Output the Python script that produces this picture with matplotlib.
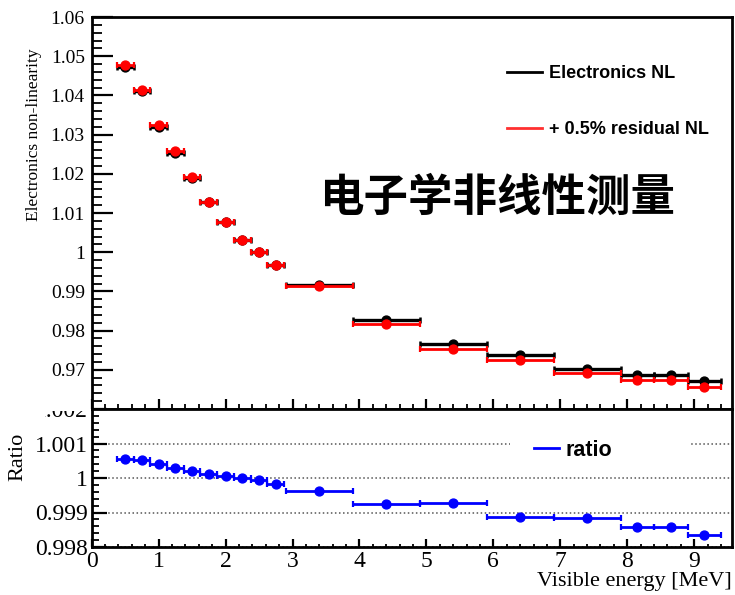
import matplotlib
matplotlib.use("Agg")
import matplotlib.pyplot as plt
from matplotlib.lines import Line2D
from matplotlib.patches import Rectangle
from matplotlib.ticker import MultipleLocator
from matplotlib.transforms import Bbox, TransformedBbox

# values
energy = [0.5, 0.75, 1.0, 1.25, 1.5, 1.75, 2.0, 2.25, 2.5, 2.75,
          3.4, 4.4, 5.4, 6.4, 7.4, 8.15, 8.65, 9.15]
energy_err = [0.125, 0.125, 0.125, 0.125, 0.125, 0.125, 0.125, 0.125, 0.125, 0.125,
              0.5, 0.5, 0.5, 0.5, 0.5, 0.25, 0.25, 0.25]
elec_nl = [1.0472, 1.0410, 1.0320, 1.0254, 1.0189, 1.0128, 1.0078, 1.0031, 1.0000, 0.9968,
           0.9916, 0.9826, 0.9765, 0.9739, 0.9703, 0.9687, 0.9687, 0.9672]
resid_nl = [1.0478, 1.0415, 1.0324, 1.0257, 1.0191, 1.0129, 1.0078, 1.0031, 1.0000, 0.9967,
            0.9913, 0.9818, 0.9754, 0.9725, 0.9691, 0.9673, 0.9673, 0.9656]
ratio = [1.00056, 1.00051, 1.00040, 1.00030, 1.00021, 1.00011, 1.00005, 0.99999, 0.99994, 0.99982,
         0.99962, 0.99924, 0.99928, 0.99886, 0.99883, 0.99858, 0.99859, 0.99836]

top_ticks = [0.97, 0.98, 0.99, 1.0, 1.01, 1.02, 1.03, 1.04, 1.05, 1.06]
top_labels = ["0.97", "0.98", "0.99", "1", "1.01", "1.02", "1.03", "1.04", "1.05", "1.06"]
ratio_ticks = [0.998, 0.999, 1.0, 1.001, 1.002]
ratio_labels = ["0.998", "0.999", "1", "1.001", "1.002"]
x_ticks = [0, 1, 2, 3, 4, 5, 6, 7, 8, 9]

W, H = 735, 595
SERIF = "Liberation Serif"
SANS = "Liberation Sans"

fig = plt.figure(figsize=(W / 100, H / 100), dpi=100)
ax = fig.add_axes([91.7 / W, 1 - 409 / H, 640 / W, 392 / H])
axr = fig.add_axes([91.7 / W, 1 - 547 / H, 640 / W, 138 / H])

for a in (ax, axr):
    a.set_xlim(0, 9.56)
    for s in a.spines.values():
        s.set_linewidth(2.0)
    a.xaxis.set_minor_locator(MultipleLocator(0.2))

# ---- top panel ----
ax.set_ylim(0.96, 1.06)
ax.set_xticks(x_ticks)
ax.set_yticks(top_ticks, top_labels, fontfamily=SERIF, fontsize=14)
ax.yaxis.set_minor_locator(MultipleLocator(0.002))
ax.tick_params(axis="y", which="major", direction="in", length=15, width=1.6, pad=5)
ax.tick_params(axis="y", which="minor", direction="in", length=7, width=1.3)
ax.tick_params(axis="x", which="major", direction="in", length=7, width=1.6, labelbottom=False)
ax.tick_params(axis="x", which="minor", direction="in", length=3.5, width=1.3)

ax.errorbar(energy, elec_nl, xerr=energy_err, fmt="o", color="black", ms=6.4,
            elinewidth=2.4, capsize=2, capthick=1.8, zorder=3)
ax.errorbar(energy, resid_nl, xerr=energy_err, fmt="o", color="#ff0000", ms=6.4,
            elinewidth=2.0, capsize=2, capthick=1.6, zorder=4)

ax.set_ylabel("Electronics non-linearity", fontfamily=SERIF, fontsize=12.5)
ax.yaxis.set_label_coords(-0.077, 0.70)

handles = [Line2D([], [], color="black", lw=2), Line2D([], [], color="#ff3030", lw=2)]
ax.legend(handles, ["Electronics NL", "+ 0.5% residual NL"], loc="upper left",
          bbox_to_anchor=((507 - 91.7) / 640, (409 - 65) / 392), frameon=False,
          borderpad=0, borderaxespad=0, handlelength=1.95, handletextpad=0.4,
          labelspacing=2.15, prop={"family": SANS, "weight": "bold", "size": 13})

ax.text((497 - 91.7) / 640, (409 - 198) / 392, "电子学非线性测量", transform=ax.transAxes,
        ha="center", va="center", fontsize=32, fontweight="bold",
        family=["Noto Sans CJK SC", "DejaVu Sans"])

# ---- ratio panel ----
axr.set_ylim(0.998, 1.002)
axr.set_xticks(x_ticks, [str(v) for v in x_ticks], fontfamily=SERIF, fontsize=17)
axr.set_yticks(ratio_ticks, ratio_labels, fontfamily=SERIF, fontsize=17)
axr.yaxis.set_minor_locator(MultipleLocator(0.0002))
axr.tick_params(axis="y", which="major", direction="in", length=11, width=1.6, pad=3)
axr.tick_params(axis="y", which="minor", direction="in", length=5, width=1.3)
axr.tick_params(axis="x", which="major", direction="in", length=5.5, width=1.6, pad=3)
axr.tick_params(axis="x", which="minor", direction="in", length=2.5, width=1.3)
axr.grid(axis="y", which="major", linestyle=":", color="#555555", linewidth=1.1)
axr.set_axisbelow(True)

axr.errorbar(energy, ratio, xerr=energy_err, fmt="o", color="#0000ff", ms=6.4,
             elinewidth=2.0, capsize=2, capthick=1.6, zorder=4)

# white box behind the ratio legend hides the grid line there
axr.add_patch(Rectangle(((510 - 91.7) / 640, (547 - 468) / 138), 180 / 640, 38 / 138,
                        transform=axr.transAxes, facecolor="white", edgecolor="none", zorder=1.5))
axr.legend([Line2D([], [], color="#0000ff", lw=2)], ["ratio"], loc="center left",
           bbox_to_anchor=((534 - 91.7) / 640, (547 - 450) / 138), frameon=False,
           borderpad=0, borderaxespad=0, handlelength=1.15, handletextpad=0.3,
           prop={"family": SANS, "weight": "bold", "size": 15.5})

axr.set_ylabel("Ratio", fontfamily=SERIF, fontsize=16)
axr.yaxis.set_label_coords(-0.101, 0.65)
axr.set_xlabel("Visible energy [MeV]", fontfamily=SERIF, fontsize=16)
axr.xaxis.set_label_coords(1.0, -0.178)
axr.xaxis.label.set_horizontalalignment("right")

# the 1.002 label is cut by the upper pad, as in the original
clip = TransformedBbox(Bbox.from_extents(45 / W, 0, 1, 1 - 411 / H), fig.transFigure)
for lab in axr.get_yticklabels():
    if lab.get_text() == "1.002":
        lab.set_clip_on(True)
        lab.set_clip_box(clip)

fig.savefig("out.png", dpi=100)
